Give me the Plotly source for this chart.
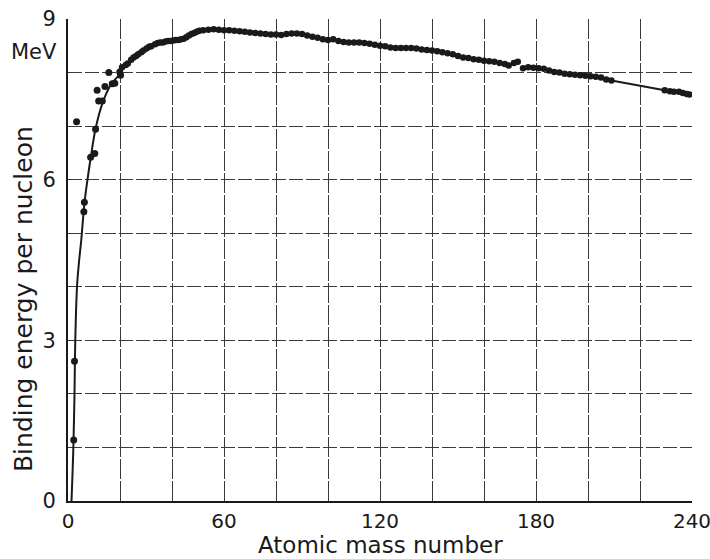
import plotly.graph_objects as go

# Light nuclei (isolated large dots): mass number, binding energy per nucleon (MeV)
light_A = [2.2, 2.5, 3.3, 6.1, 6.3, 8.7, 10.3, 10.6, 11.2, 11.8, 13.2, 14.2, 15.7, 17.0, 18.0, 19.9, 20.2]
light_BE = [1.14, 2.61, 7.08, 5.40, 5.58, 6.42, 6.49, 6.94, 7.67, 7.47, 7.47, 7.74, 8.00, 7.79, 7.80, 8.01, 7.95]

# Main band of nuclei
band_A = [20.8, 22.2, 23.0, 24.3, 25.2, 26.2, 27.0, 28.2, 29.0, 30.2, 31.2, 32.0, 33.5, 34.5,
          35.5, 36.5, 37.5, 38.5, 39.5, 40.5, 41.5, 42.5, 43.5, 44.5, 45.5, 46.5, 47.5, 48.5,
          49.5, 50.5, 52, 54, 56, 58, 60, 62, 64, 66, 68, 70, 72, 74, 76, 78, 80, 82, 84, 86,
          88, 90, 92, 94, 96, 98, 100, 102, 104, 106, 108, 110, 112, 114, 116, 118, 120, 122,
          124, 126, 128, 130, 132, 134, 136, 138, 140, 142, 144, 146, 148, 150, 152, 154, 156,
          158, 160, 162, 164, 166, 168, 169.5, 171.5, 173, 175, 177, 179, 181, 183, 185, 187,
          189, 191, 193, 195, 197, 199, 201, 203, 205, 207, 209,
          229.5, 231.5, 233, 235, 236.5, 238, 239]
band_BE = [8.10, 8.14, 8.17, 8.24, 8.28, 8.31, 8.34, 8.38, 8.41, 8.45, 8.48, 8.49, 8.53, 8.55,
           8.56, 8.56, 8.58, 8.59, 8.59, 8.60, 8.61, 8.61, 8.62, 8.63, 8.66, 8.69, 8.72, 8.74,
           8.76, 8.78, 8.79, 8.80, 8.81, 8.80, 8.79, 8.79, 8.78, 8.77, 8.76, 8.75, 8.74, 8.73,
           8.72, 8.71, 8.71, 8.70, 8.72, 8.73, 8.73, 8.72, 8.69, 8.67, 8.65, 8.62, 8.61, 8.62,
           8.59, 8.57, 8.56, 8.56, 8.56, 8.55, 8.54, 8.52, 8.50, 8.49, 8.47, 8.46, 8.46, 8.46,
           8.46, 8.45, 8.43, 8.42, 8.41, 8.40, 8.38, 8.36, 8.34, 8.31, 8.28, 8.27, 8.25, 8.24,
           8.22, 8.21, 8.20, 8.18, 8.16, 8.13, 8.18, 8.20, 8.08, 8.10, 8.09, 8.08, 8.07, 8.04,
           8.01, 8.00, 7.98, 7.97, 7.96, 7.95, 7.94, 7.93, 7.92, 7.91, 7.87, 7.85,
           7.67, 7.65, 7.64, 7.64, 7.62, 7.60, 7.59]

# Smooth curve through light nuclei
curve_A = [1.35, 2.0, 2.5, 2.8, 3.5, 4.3, 5.1, 6.3, 7.5, 8.7, 10.6, 13.2, 16.3, 19.5, 21.0]
curve_BE = [0.0, 0.9, 2.0, 3.0, 4.03, 4.5, 4.87, 5.55, 6.0, 6.4, 6.95, 7.42, 7.76, 7.95, 8.08]

# Line through the heavy nuclei
heavy_A = [203, 205, 207, 209, 229.5, 231.5, 233, 235, 236.5, 238, 239]
heavy_BE = [7.92, 7.91, 7.87, 7.85, 7.67, 7.65, 7.64, 7.64, 7.62, 7.60, 7.59]

x_tickvals = [0, 20, 40, 60, 80, 100, 120, 140, 160, 180, 200, 220, 240]
x_ticktext = ["0", "", "", "60", "", "", "120", "", "", "180", "", "", "240"]
y_tickvals = [0, 1, 2, 3, 4, 5, 6, 7, 8, 9]
y_ticktext = ["0", "", "", "3", "", "", "6", "", "", "9"]

FONT = "DejaVu Sans"
INK = "#1a1a1a"

fig = go.Figure()
fig.add_trace(go.Scatter(x=curve_A, y=curve_BE, mode="lines", line=dict(color=INK, width=2, shape="spline"),
                         showlegend=False, hoverinfo="skip"))
fig.add_trace(go.Scatter(x=heavy_A, y=heavy_BE, mode="lines", line=dict(color=INK, width=2),
                         showlegend=False, hoverinfo="skip"))
fig.add_trace(go.Scatter(x=light_A, y=light_BE, mode="markers", marker=dict(color=INK, size=7),
                         showlegend=False))
fig.add_trace(go.Scatter(x=band_A, y=band_BE, mode="markers", marker=dict(color=INK, size=6.5),
                         showlegend=False))

fig.update_layout(
    width=710, height=559,
    margin=dict(l=68, r=18, t=19, b=58),
    paper_bgcolor="white", plot_bgcolor="white",
    font=dict(family=FONT, color=INK, size=20),
    xaxis=dict(range=[0, 240], tickvals=x_tickvals, ticktext=x_ticktext, automargin=False,
               showgrid=True, gridcolor="#3a3a3a", gridwidth=1, griddash="20px,2px",
               showline=True, linecolor=INK, linewidth=2, zeroline=False,
               ticks="", ticklabelstandoff=1, tickfont=dict(size=20), ticklabeloverflow="allow"),
    yaxis=dict(range=[0, 9], tickvals=y_tickvals, ticktext=y_ticktext, automargin=False,
               showgrid=True, gridcolor="#3a3a3a", gridwidth=1, griddash="14px,3px",
               showline=True, linecolor=INK, linewidth=2, zeroline=False,
               ticks="", ticklabelstandoff=6, tickfont=dict(size=21), ticklabeloverflow="allow"),
    annotations=[
        dict(text="MeV", xref="paper", yref="y", x=0, y=8.38, xanchor="right", yanchor="middle",
             xshift=-9, showarrow=False, font=dict(size=21, family=FONT, color=INK)),
        dict(text="Atomic mass number", xref="paper", yref="paper", x=0.5, y=-0.0913,
             xanchor="center", yanchor="middle", showarrow=False,
             font=dict(size=23, family=FONT, color=INK)),
        dict(text="Binding energy per nucleon", xref="paper", yref="paper", x=0, y=0.419,
             xanchor="center", yanchor="middle", xshift=-45, textangle=-90, showarrow=False,
             font=dict(size=25, family=FONT, color=INK)),
    ],
)

fig.write_html("out.html", config={"displayModeBar": False},
               post_script="document.body.style.margin='0px';document.body.style.overflow='hidden';")
